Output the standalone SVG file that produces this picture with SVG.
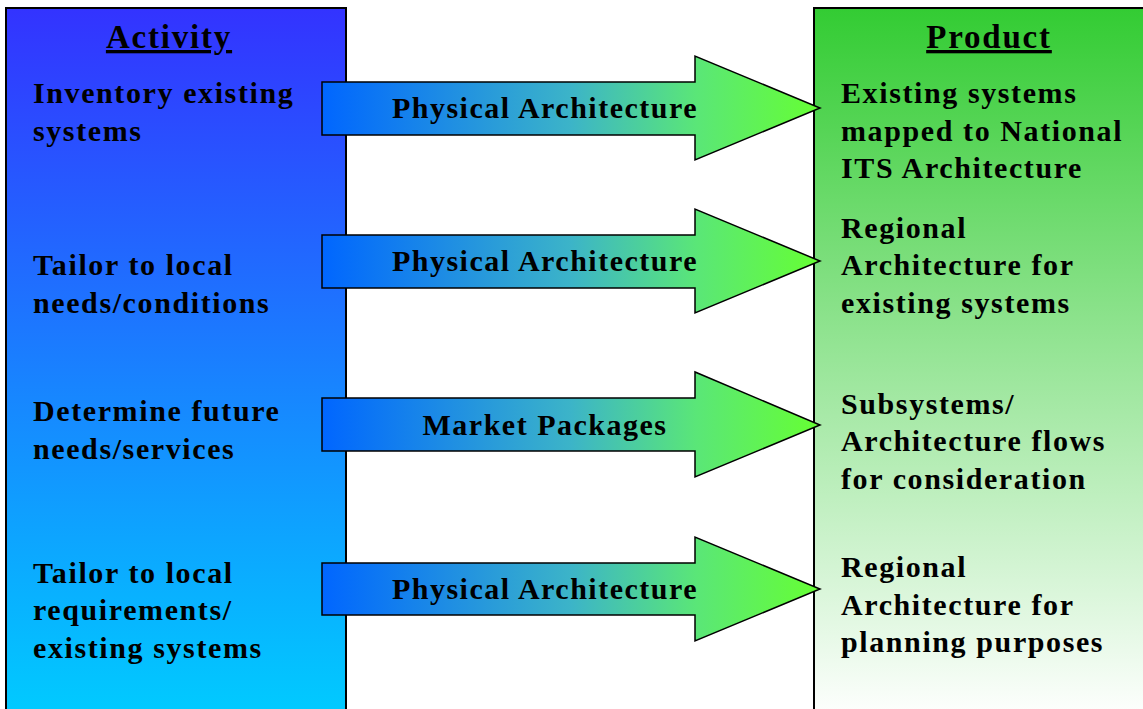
<svg xmlns="http://www.w3.org/2000/svg" width="1143" height="709" viewBox="0 0 1143 709">
<defs>
<linearGradient id="gl" x1="0" y1="0" x2="0" y2="1"><stop offset="0" stop-color="#3333FF"/><stop offset="1" stop-color="#00CCFF"/></linearGradient>
<linearGradient id="gr" x1="0" y1="0" x2="0" y2="1"><stop offset="0" stop-color="#33CC33"/><stop offset="1" stop-color="#FFFFFF"/></linearGradient>
<linearGradient id="ga" x1="0" y1="0" x2="1" y2="0"><stop offset="0" stop-color="#0066FF"/><stop offset="0.5" stop-color="#3CB4C8"/><stop offset="0.75" stop-color="#5AE678"/><stop offset="1" stop-color="#66FF33"/></linearGradient>
<style>
text{font-family:"Liberation Serif","Times New Roman",serif;font-weight:bold;font-size:30px;letter-spacing:1.6px;fill:#000}
.h{font-size:33px;letter-spacing:1.8px;text-decoration:underline;text-anchor:middle}
.c{text-anchor:middle;letter-spacing:1.5px}
.panel{stroke:#000;stroke-width:2}
.arr{fill:url(#ga);stroke:#000;stroke-width:1.5;stroke-linejoin:miter}
</style>
</defs>
<g id="activity">
<rect class="panel" x="6" y="8" width="340" height="712" fill="url(#gl)"/>
<text class="h" x="169" y="48">Activity</text>
<text x="33" y="103">Inventory existing</text>
<text x="33" y="141">systems</text>
<text x="33" y="275">Tailor to local</text>
<text x="33" y="313">needs/conditions</text>
<text x="33" y="421">Determine future</text>
<text x="33" y="459">needs/services</text>
<text x="33" y="583">Tailor to local</text>
<text x="33" y="620">requirements/</text>
<text x="33" y="658">existing systems</text>
</g>
<g id="product">
<rect class="panel" x="814" y="8" width="340" height="712" fill="url(#gr)"/>
<text class="h" x="989" y="48">Product</text>
<text x="841" y="103">Existing systems</text>
<text x="841" y="141">mapped to National</text>
<text x="841" y="178">ITS Architecture</text>
<text x="841" y="238">Regional</text>
<text x="841" y="275">Architecture for</text>
<text x="841" y="313">existing systems</text>
<text x="841" y="414">Subsystems/</text>
<text x="841" y="451">Architecture flows</text>
<text x="841" y="489">for consideration</text>
<text x="841" y="577">Regional</text>
<text x="841" y="615">Architecture for</text>
<text x="841" y="652">planning purposes</text>
</g>
<g id="connectors">
<g id="arrow1"><path class="arr" d="M322,82 H695 V56 L820,108 L695,160 V135 H322 Z"/><text class="c" x="545" y="118">Physical Architecture</text></g>
<g id="arrow2"><path class="arr" d="M322,235 H695 V209 L820,261 L695,313 V288 H322 Z"/><text class="c" x="545" y="271">Physical Architecture</text></g>
<g id="arrow3"><path class="arr" d="M322,398 H695 V372 L820,425 L695,477 V451 H322 Z"/><text class="c" x="545" y="435">Market Packages</text></g>
<g id="arrow4"><path class="arr" d="M322,563 H695 V537 L820,589 L695,641 V615 H322 Z"/><text class="c" x="545" y="599">Physical Architecture</text></g>
</g>
</svg>
